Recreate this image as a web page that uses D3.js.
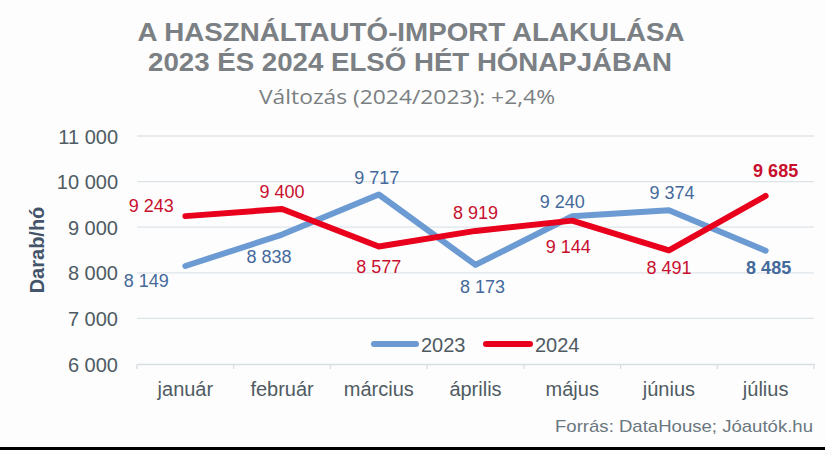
<!DOCTYPE html>
<html><head><meta charset="utf-8">
<script src="https://cdn.jsdelivr.net/npm/d3@7"></script>
<style>
html,body{margin:0;padding:0;background:#fdfdfd;}
svg{display:block;}
</style></head>
<body>
<svg id="chart" width="825" height="450"></svg>
<script>
const months = ["január","február","március","április","május","június","július"];
const values2023 = [8149, 8838, 9717, 8173, 9240, 9374, 8485];
const values2024 = [9243, 9400, 8577, 8919, 9144, 8491, 9685];
const yTicks = [6000, 7000, 8000, 9000, 10000, 11000];
const seriesNames = ["2023", "2024"];
const titleLines = ["A HASZNÁLTAUTÓ-IMPORT ALAKULÁSA", "2023 ÉS 2024 ELSŐ HÉT HÓNAPJÁBAN"];
const subtitle = "Változás (2024/2023): +2,4%";
const yTitle = "Darab/hó";
const source = "Forrás: DataHouse; Jóautók.hu";

// label placement offsets (style only)
const off2023 = [[-39,15],[-13,22],[-2,-17],[7,22],[-10,-15],[3,-17],[3,17]];
const off2024 = [[-34,-10],[0,-17],[0,20],[0,-18],[-4,26],[0,17],[10,-25]];

const svg = d3.select("#chart");
const W = 825, H = 450;
svg.append("rect").attr("width",W).attr("height",H).attr("fill","#fdfdfd");
svg.append("rect").attr("x",0).attr("y",447).attr("width",W).attr("height",3).attr("fill","#000");

const fmt = v => d3.format(",")(v).replace(/,/g, " ");

const x = d3.scaleBand().domain(months).range([137, 814]);
const y = d3.scaleLinear().domain([6000, 11000]).range([364, 136]);
const cx = m => x(m) + x.bandwidth()/2;

// titles
svg.append("text").attr("x",411).attr("y",41).attr("text-anchor","middle")
  .attr("font-family","Liberation Sans Narrow, Liberation Sans, Arial").attr("font-weight","bold")
  .attr("font-size",26).attr("fill","#7b8084")
  .attr("textLength",547).attr("lengthAdjust","spacingAndGlyphs").text(titleLines[0]);
svg.append("text").attr("x",410).attr("y",71).attr("text-anchor","middle")
  .attr("font-family","Liberation Sans Narrow, Liberation Sans, Arial").attr("font-weight","bold")
  .attr("font-size",26).attr("fill","#7b8084")
  .attr("textLength",524).attr("lengthAdjust","spacingAndGlyphs").text(titleLines[1]);
svg.append("text").attr("x",407).attr("y",104).attr("text-anchor","middle")
  .attr("font-family","Open Sans, Noto Sans, sans-serif")
  .attr("font-size",20).attr("fill","#7a7f82")
  .attr("textLength",296).attr("lengthAdjust","spacingAndGlyphs").text(subtitle);

// gridlines
const g = svg.append("g");
g.selectAll("line.grid").data(yTicks.filter(t=>t>6000)).join("line")
  .attr("x1",137).attr("x2",814).attr("y1",d=>y(d)).attr("y2",d=>y(d))
  .attr("stroke","#dce4e8").attr("stroke-width",1.3);

// y axis labels
const yAxis = d3.axisLeft(y).tickValues(yTicks).tickFormat(fmt).tickSize(0).tickPadding(0);
const ya = svg.append("g").attr("transform","translate(118,0)").call(yAxis);
ya.select(".domain").remove();
ya.selectAll("text").attr("font-family","Liberation Sans, Arial").attr("font-size",20)
  .attr("fill","#4f5b63").attr("dy","0.35em");

// x axis
const xAxis = d3.axisBottom(x).tickSize(0).tickPadding(0);
const xa = svg.append("g").attr("transform","translate(0,364)").call(xAxis);
xa.select(".domain").attr("stroke","#d6dee2").attr("stroke-width",1.3);
xa.selectAll("text").attr("font-family","Liberation Sans, Arial").attr("font-size",20)
  .attr("fill","#4f5b63").attr("dy",null).attr("y",32);
xa.selectAll("line.bnd").data(months.concat(["__end"])).join("line").attr("class","bnd")
  .attr("x1",(d,i)=> i<months.length ? x(d) : x(months[months.length-1])+x.bandwidth())
  .attr("x2",(d,i)=> i<months.length ? x(d) : x(months[months.length-1])+x.bandwidth())
  .attr("y1",0).attr("y2",5).attr("stroke","#d6dee2").attr("stroke-width",1.3);

// y title
svg.append("text").attr("transform","translate(44,250) rotate(-90)").attr("text-anchor","middle")
  .attr("font-family","Liberation Sans, Arial").attr("font-weight","bold").attr("font-size",20)
  .attr("fill","#44546a").text(yTitle);

// lines
const line = d3.line().x((d,i)=>cx(months[i])).y(d=>y(d));
const colors = ["#6b9bd2", "#e8001c"];
const labelColors = ["#44699b", "#c8102e"];
[values2023, values2024].forEach((vals, s) => {
  svg.append("path").datum(vals).attr("d", line).attr("fill","none")
    .attr("stroke", colors[s]).attr("stroke-width", 6).attr("stroke-linejoin","round").attr("stroke-linecap","round");
});
[values2023, values2024].forEach((vals, s) => {
  const offs = s===0 ? off2023 : off2024;
  svg.append("g").selectAll("text").data(vals).join("text")
    .attr("x",(d,i)=>cx(months[i]) + offs[i][0])
    .attr("y",(d,i)=>y(d) + offs[i][1])
    .attr("dy","0.35em").attr("text-anchor","middle")
    .attr("font-family","Liberation Sans, Arial").attr("font-size",18)
    .attr("font-weight",(d,i)=> i===vals.length-1 ? "bold" : "normal")
    .attr("fill",labelColors[s]).text(d=>fmt(d));
});

// legend
const leg = [[371, 421], [483, 535]];
seriesNames.forEach((n, s) => {
  svg.append("line").attr("x1",leg[s][0]+3).attr("x2",leg[s][1]-5).attr("y1",344).attr("y2",344)
    .attr("stroke",colors[s]).attr("stroke-width",6).attr("stroke-linecap","round");
  svg.append("text").attr("x",leg[s][1]).attr("y",352)
    .attr("font-family","Liberation Sans, Arial").attr("font-size",20).attr("fill","#4f5b63").text(n);
});

// source
svg.append("text").attr("x",813).attr("y",432).attr("text-anchor","end")
  .attr("font-family","Liberation Sans, Arial").attr("font-size",17).attr("fill","#6a777e")
  .attr("textLength",258).attr("lengthAdjust","spacingAndGlyphs").text(source);
</script>
</body></html>
